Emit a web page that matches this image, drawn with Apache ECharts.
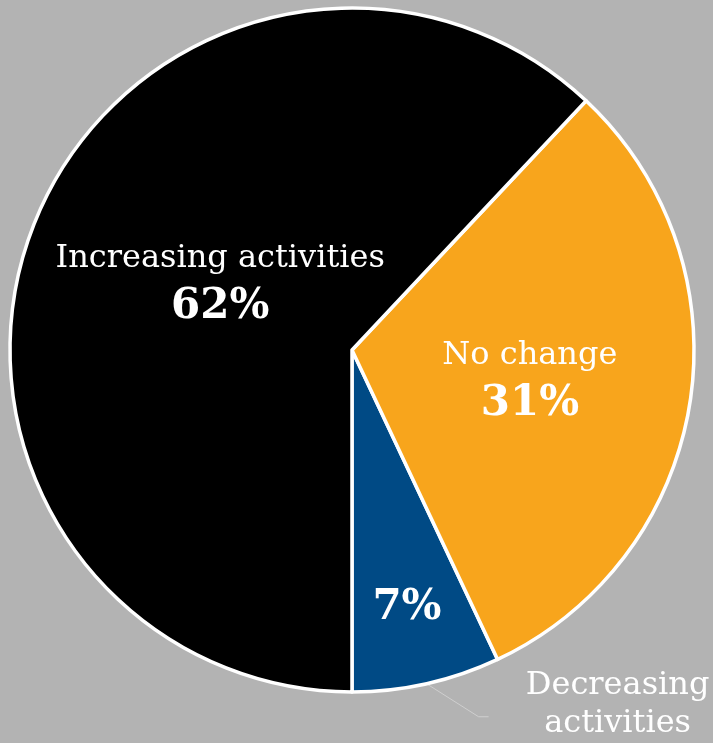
<!DOCTYPE html>
<html>
<head>
<meta charset="utf-8">
<script src="https://cdn.jsdelivr.net/npm/echarts@6/dist/echarts.min.js"></script>
<style>
  html, body { margin: 0; padding: 0; background: #b3b3b3; }
  #chart { width: 713px; height: 743px; }
</style>
</head>
<body>
<div id="chart"></div>
<script>
// Share of respondents by change in activities (slices drawn from the bottom, counter-clockwise)
const categories = ['Decreasing activities', 'No change', 'Increasing activities'];
const shares = [7, 31, 62];
const sliceColors = ['#004a85', '#f8a51c', '#000000'];
const labelNames = ['Decreasing\nactivities', 'No change', 'Increasing activities'];

const FONT = "Georgia, 'DejaVu Serif', serif";

// Nudges for the inside labels, per slice
const insideNudge = [[17, 88], [6, 4], [30, -1]];

const data = categories.map((c, i) => ({
  name: c,
  value: shares[i],
  itemStyle: { color: sliceColors[i] }
}));

const chart = echarts.init(document.getElementById('chart'), null, { renderer: 'canvas' });

chart.setOption({
  backgroundColor: '#b3b3b3',
  animation: false,
  series: [
    {
      type: 'pie',
      center: [352, 350],
      radius: [0, 342],
      startAngle: 270,
      clockwise: false,
      avoidLabelOverlap: false,
      silent: true,
      itemStyle: { borderColor: '#ffffff', borderWidth: 3.5 },
      label: {
        show: true,
        position: 'inside',
        formatter: p => {
          const i = p.dataIndex;
          if (i === 0) return '{p|' + shares[i] + '%}';
          return '{n|' + labelNames[i] + '}\n{p|' + shares[i] + '%}';
        },
        rich: {
          n: { fontFamily: FONT, fontSize: 32, color: '#ffffff', lineHeight: 45, align: 'center' },
          p: { fontFamily: FONT, fontSize: 42, fontWeight: 'bold', color: '#ffffff', lineHeight: 52, align: 'center' }
        }
      },
      labelLine: { show: false },
      labelLayout: p => ({ dx: insideNudge[p.dataIndex][0], dy: insideNudge[p.dataIndex][1] }),
      data: data
    },
    {
      // transparent copy carrying the outside callout for the smallest slice
      type: 'pie',
      center: [352, 350],
      radius: [0, 342],
      startAngle: 270,
      clockwise: false,
      avoidLabelOverlap: false,
      silent: true,
      z: 1,
      itemStyle: { color: 'rgba(0,0,0,0)', borderWidth: 0 },
      label: { show: false },
      labelLine: { show: false },
      labelLayout: p => {
        if (p.dataIndex !== 0 || !p.labelLinePoints) return {};
        const e = p.labelLinePoints[0];
        return { labelLinePoints: [[e[0], e[1]], [e[0] + 52, e[1] + 33], [e[0] + 62, e[1] + 33]] };
      },
      data: categories.map((c, i) => ({
        name: c,
        value: shares[i],
        label: i === 0 ? {
          show: true,
          position: 'outside',
          distanceToLabelLine: 36,
          padding: [0, 0, 22, 0],
          formatter: '{a|Decreasing}\n{a|activities}',
          rich: { a: { fontFamily: FONT, fontSize: 32, color: '#ffffff', lineHeight: 38, align: 'center' } }
        } : { show: false },
        labelLine: i === 0 ? {
          show: true, length: 33, length2: 56,
          lineStyle: { color: '#cfcfcf', width: 1 }
        } : { show: false }
      }))
    }
  ]
});
</script>
</body>
</html>
